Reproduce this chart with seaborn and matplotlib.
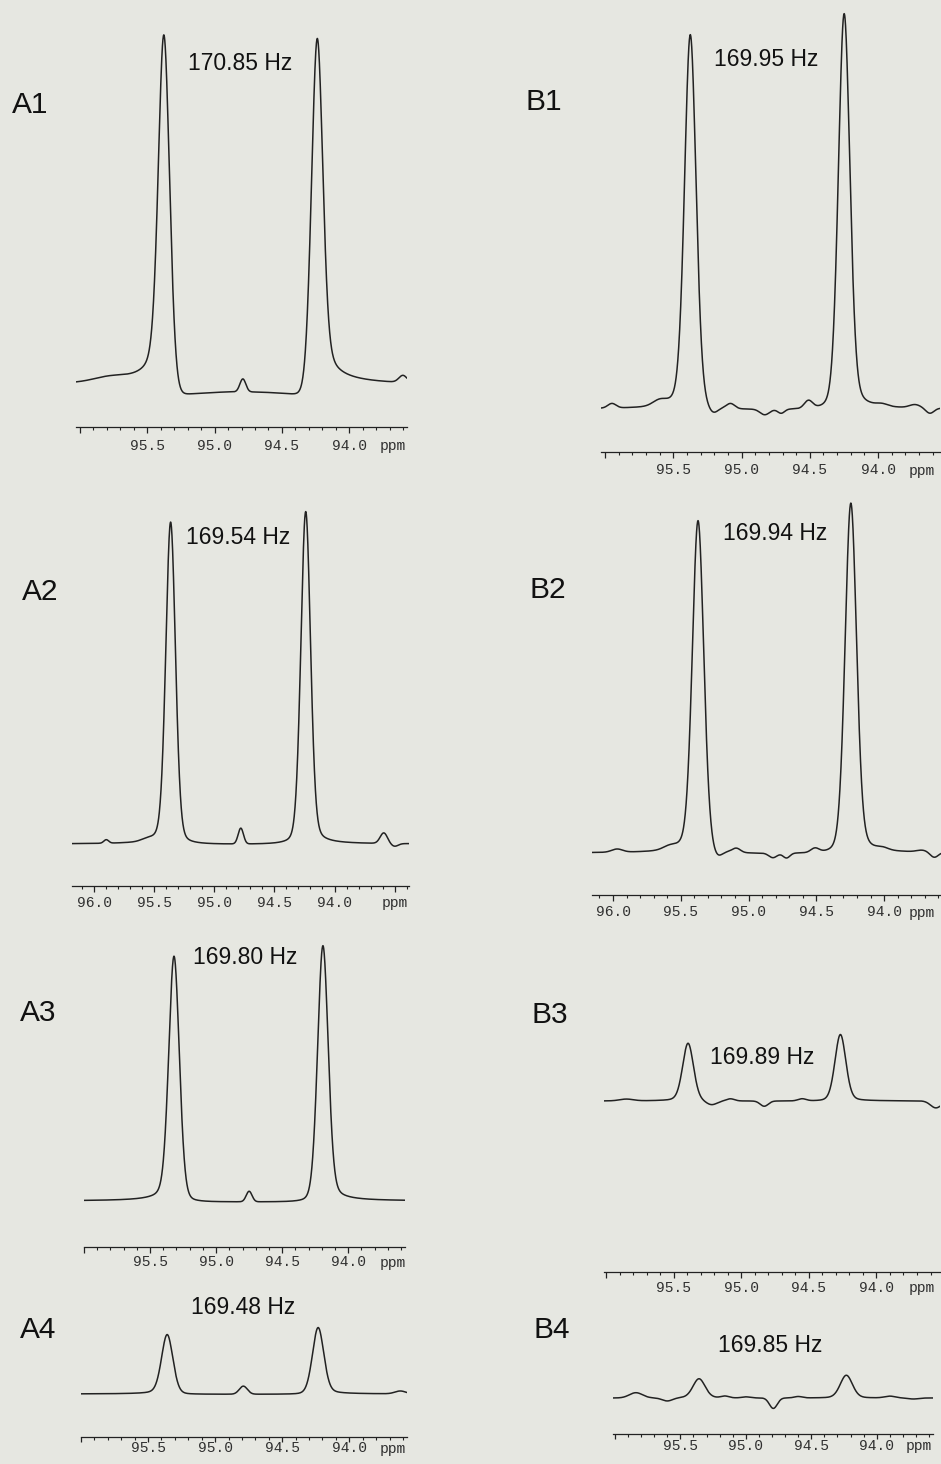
import numpy as np
import pandas as pd
import matplotlib
matplotlib.use("Agg")
import matplotlib.pyplot as plt
import seaborn as sns

# ---------------------------------------------------------------- data
SF_MHZ = 150.9  # 13C observe frequency used to convert J (Hz) to ppm

PANELS = ["A1", "A2", "A3", "A4", "B1", "B2", "B3", "B4"]
J_HZ = [170.85, 169.54, 169.80, 169.48, 169.95, 169.94, 169.89, 169.85]
CENTER_PPM = [94.807, 94.802, 94.755, 94.795, 94.812, 94.809, 94.830, 94.795]
HEIGHT_DOWNFIELD = [100.0, 92.0, 70.0, 17.0, 107.0, 95.0, 16.5, 5.5]
HEIGHT_UPFIELD = [99.0, 95.0, 73.0, 19.0, 113.0, 100.0, 19.0, 6.5]
FWHM_PPM = [0.100, 0.095, 0.095, 0.100, 0.100, 0.100, 0.095, 0.110]
LORENTZ_FRACTION = [0.20, 0.20, 0.20, 0.20, 0.20, 0.20, 0.20, 0.20]
DISPERSION = [0.13, 0.015, 0.035, 0.035, 0.02, 0.02, 0.015, 0.0]

# small baseline features: (ppm, amplitude, width in ppm)
RIPPLE_A1 = [(95.78, 1.2, 0.12), (94.79, 3.7, 0.022), (93.60, 2.0, 0.03)]
RIPPLE_A2 = [(95.90, 1.0, 0.02), (95.56, 0.6, 0.05), (94.78, 4.5, 0.022),
             (93.59, 3.0, 0.03), (93.50, -0.8, 0.03)]
RIPPLE_A3 = [(94.75, 3.0, 0.022)]
RIPPLE_A4 = [(94.79, 2.3, 0.03), (93.62, 0.8, 0.04)]
RIPPLE_B1 = [(95.95, 1.3, 0.03), (95.60, 1.5, 0.05), (95.21, -2.0, 0.035),
             (95.08, 1.4, 0.03), (94.83, -1.6, 0.035), (94.71, -1.2, 0.025),
             (94.51, 2.2, 0.03), (93.97, 0.6, 0.04), (93.73, 0.9, 0.04),
             (93.62, -1.5, 0.03)]
RIPPLE_B2 = [(95.97, 0.9, 0.04), (95.58, 1.0, 0.05), (95.23, -2.0, 0.035),
             (95.09, 1.2, 0.03), (94.82, -1.3, 0.03), (94.72, -1.4, 0.025),
             (94.51, 1.2, 0.03), (94.01, 0.6, 0.04), (93.72, 0.5, 0.04),
             (93.63, -1.5, 0.03)]
RIPPLE_B3 = [(95.85, 0.5, 0.05), (95.22, -1.2, 0.04), (95.08, 0.6, 0.03),
             (94.83, -1.5, 0.03), (94.55, 0.6, 0.03), (93.56, -2.0, 0.04)]
RIPPLE_B4 = [(95.84, 1.5, 0.05), (95.60, -0.9, 0.04), (95.16, 0.5, 0.03),
             (95.00, 0.3, 0.03), (94.79, -3.0, 0.03), (94.60, 0.4, 0.03),
             (93.90, 0.5, 0.04), (93.72, -0.3, 0.04)]
RIPPLES = [RIPPLE_A1, RIPPLE_A2, RIPPLE_A3, RIPPLE_A4,
           RIPPLE_B1, RIPPLE_B2, RIPPLE_B3, RIPPLE_B4]

# ppm window and labelled ticks of each trace
PPM_LEFT = [96.03, 96.185, 96.00, 96.00, 96.03, 96.155, 96.015, 96.015]
PPM_RIGHT = [93.57, 93.38, 93.57, 93.57, 93.546, 93.58, 93.53, 93.57]
TICKS_SHORT = [96.0, 95.5, 95.0, 94.5, 94.0]
LABELS_SHORT = ["", "95.5", "95.0", "94.5", "94.0"]
TICKS_LONG = [96.0, 95.5, 95.0, 94.5, 94.0]
LABELS_LONG = ["96.0", "95.5", "95.0", "94.5", "94.0"]

# ---------------------------------------------------------------- layout (pixels)
W, H = 941, 1464
PX_PER_UNIT = 3.5
# x0, x1, axis line y, zero-intensity y, label gap (axis -> label centre)
FRAME = {
    "A1": (76, 407, 427, 385, 19),
    "A2": (72, 409, 886, 844, 18),
    "A3": (84, 405, 1247, 1201, 16),
    "A4": (81, 407, 1437, 1394, 12),
    "B1": (601, 940, 452, 409, 19),
    "B2": (592, 941, 895, 853, 18),
    "B3": (604, 940, 1272, 1101, 16),
    "B4": (613, 933, 1434, 1398, 12),
}
PPM_TEXT_X = {"A1": 393, "A2": None, "A3": 393, "A4": 393,
              "B1": 922, "B2": 922, "B3": 922, "B4": 919}
NAME_POS = {"A1": (12, 105), "A2": (22, 592), "A3": (20, 1013), "A4": (20, 1330),
            "B1": (525, 102), "B2": (530, 590), "B3": (532, 1015), "B4": (533, 1330)}
HZ_POS = {"A1": (240, 63), "A2": (238, 538), "A3": (245, 958), "A4": (243, 1307),
          "B1": (766, 59), "B2": (775, 534), "B3": (762, 1058), "B4": (770, 1345)}

PAPER = "#e6e7e1"
INK = "#222222"
MONO = "Liberation Mono"
SANS = "Liberation Sans"


def doublet(ppm, center, j_hz, h_down, h_up, fwhm, eta, mix, ripples):
    """Phase-distorted pseudo-Voigt doublet plus small baseline features."""
    half = j_hz / SF_MHZ / 2.0
    w = fwhm / 2.0
    y = np.zeros_like(ppm)
    for pos, h, sgn in ((center + half, h_down, 1.0), (center - half, h_up, -1.0)):
        d = ppm - pos
        lor = w ** 2 / (d ** 2 + w ** 2)
        gau = np.exp(-np.log(2.0) * (d / w) ** 2)
        disp = w * d / (d ** 2 + w ** 2)
        y += h * (eta * lor + (1.0 - eta) * gau + sgn * mix * disp)
    for pos, a, s in ripples:
        y += a * np.exp(-0.5 * ((ppm - pos) / s) ** 2)
    return y


sns.set_style("white", {"xtick.bottom": True})
plt.rcParams["font.family"] = [SANS, "DejaVu Sans"]

fig = plt.figure(figsize=(W / 100, H / 100), dpi=100)
fig.patch.set_facecolor(PAPER)

for i, name in enumerate(PANELS):
    x0, x1, axis_y, base_y, gap = FRAME[name]
    top_y = base_y - max(HEIGHT_DOWNFIELD[i], HEIGHT_UPFIELD[i]) * PX_PER_UNIT - 30
    ax = fig.add_axes([x0 / W, 1 - axis_y / H, (x1 - x0) / W, (axis_y - top_y) / H])
    ax.set_facecolor("none")

    ppm = np.linspace(PPM_LEFT[i], PPM_RIGHT[i], 2000)
    inten = doublet(ppm, CENTER_PPM[i], J_HZ[i], HEIGHT_DOWNFIELD[i], HEIGHT_UPFIELD[i],
                    FWHM_PPM[i], LORENTZ_FRACTION[i], DISPERSION[i], RIPPLES[i])
    df = pd.DataFrame({"ppm": ppm, "intensity": inten})
    sns.lineplot(data=df, x="ppm", y="intensity", ax=ax, color=INK, linewidth=1.1,
                 estimator=None, sort=False)

    ax.set_xlim(PPM_LEFT[i], PPM_RIGHT[i])
    ax.set_ylim(-(axis_y - base_y) / PX_PER_UNIT, (base_y - top_y) / PX_PER_UNIT)
    for side in ("left", "right", "top"):
        ax.spines[side].set_visible(False)
    ax.spines["bottom"].set_linewidth(0.9)
    ax.spines["bottom"].set_color(INK)
    ax.set_yticks([])
    ax.set_xlabel("")
    ax.set_ylabel("")

    if name in ("A2", "B2"):
        ticks, labels = list(TICKS_LONG), list(LABELS_LONG)
    else:
        ticks, labels = list(TICKS_SHORT), list(LABELS_SHORT)
    if name == "A2":
        ticks.append(93.5)
        labels.append("ppm")
    ax.set_xticks(ticks)
    minor = np.round(np.arange(np.ceil(PPM_RIGHT[i] * 10), np.floor(PPM_LEFT[i] * 10) + 1) / 10, 1)
    ax.set_xticks([m for m in minor if round(m * 2, 3) % 1 != 0], minor=True)
    short = name in ("A4", "B4")
    maj_len = 4.5 if not short else 3.6
    min_len = 2.2 if not short else 1.8
    pad_px = gap - maj_len * 100 / 72 - 7.5
    ax.tick_params(axis="x", which="both", bottom=True, direction="out", color=INK)
    ax.tick_params(axis="x", which="major", length=maj_len, width=0.9,
                   pad=pad_px * 72 / 100, labelsize=10.5, labelcolor="#303030")
    ax.tick_params(axis="x", which="minor", length=min_len, width=0.8)
    ax.set_xticklabels(labels, fontfamily=MONO)

    px_ppm = PPM_TEXT_X[name]
    if px_ppm is not None:
        fig.text(px_ppm / W, 1 - (axis_y + gap) / H, "ppm", ha="center", va="center",
                 fontfamily=MONO, fontsize=10.5, color="#303030")

    nx, ny = NAME_POS[name]
    fig.text(nx / W, 1 - ny / H, name, ha="left", va="center", fontsize=21.5, color="#111111")
    hx, hy = HZ_POS[name]
    fig.text(hx / W, 1 - hy / H, f"{J_HZ[i]:.2f} Hz", ha="center", va="center",
             fontsize=16.5, color="#111111")

fig.savefig("out.png", dpi=100, facecolor=PAPER)
